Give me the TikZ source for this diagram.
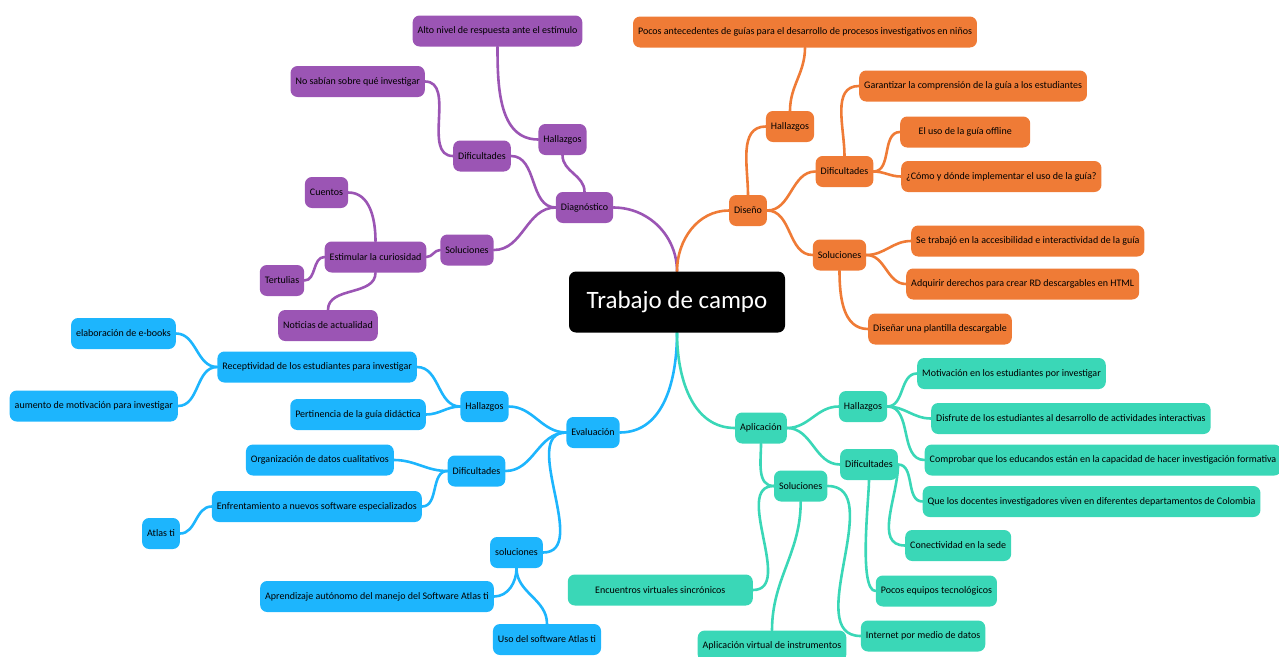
\documentclass[tikz,border=0pt]{standalone}
\usepackage{fontspec}
\setmainfont{Carlito}
\usetikzlibrary{backgrounds}

\definecolor{diagcol}{HTML}{9B55B4}
\definecolor{disecol}{HTML}{EF7B36}
\definecolor{evalcol}{HTML}{1DB5FD}
\definecolor{aplicol}{HTML}{3AD7B7}

\begin{document}
\begin{tikzpicture}[x=1pt,y=1pt]
	\tikzstyle{topic} = [rounded corners=7pt,minimum height=31pt,inner xsep=5pt,inner ysep=2pt,font=\fontsize{10}{11}\selectfont,text=black]
	\tikzstyle{diag} = [topic,fill=diagcol]
	\tikzstyle{dise} = [topic,fill=disecol]
	\tikzstyle{eval} = [topic,fill=evalcol]
	\tikzstyle{apli} = [topic,fill=aplicol]
	\tikzstyle{link} = [line width=2.6pt,line cap=round]

	\useasboundingbox (0,0) rectangle (1279,-656);

	\node[fill=black,rounded corners=7pt,minimum width=216pt,minimum height=61pt,text=white,font=\fontsize{25}{29}\selectfont] at (677,-302) (tc) {Trabajo de campo};

	% Diagnostico
	\node[diag] at (584.5,-207.5) (d0) {Diagnóstico};
	\node[diag] at (562.5,-139.5) (dhal) {Hallazgos};
	\node[diag] at (497.5,-31) (dalto) {Alto nivel de respuesta ante el estímulo};
	\node[diag] at (482,-156) (ddif) {Dificultades};
	\node[diag,anchor=east] at (425,-81.5) (dno) {No sabían sobre qué investigar};
	\node[diag] at (467,-250) (dsol) {Soluciones};
	\node[diag] at (375.5,-257) (dest) {Estimular la curiosidad};
	\node[diag] at (326.5,-192.5) (dcue) {Cuentos};
	\node[diag] at (282,-280.5) (dter) {Tertulias};
	\node[diag] at (328,-325.5) (dnot) {Noticias de actualidad};

	% Diseno
	\node[dise] at (748,-210.5) (s0) {Diseño};
	\node[dise] at (790,-126.5) (shal) {Hallazgos};
	\node[dise] at (805,-32) (spoc) {Pocos antecedentes de guías para el desarrollo de procesos investigativos en niños};
	\node[dise] at (844.5,-171.5) (sdif) {Dificultades};
	\node[dise,anchor=west] at (859,-86) (sgar) {Garantizar la comprensión de la guía a los estudiantes};
	\node[dise,anchor=west,minimum width=130pt] at (900,-132) (suso) {El uso de la guía offline};
	\node[dise,anchor=west] at (901,-176.5) (scom) {¿Cómo y dónde implementar el uso de la guía?};
	\node[dise] at (839.5,-255) (ssol) {Soluciones};
	\node[dise,anchor=west] at (911,-241) (stra) {Se trabajó en la accesibilidad e interactividad de la guía};
	\node[dise,anchor=west] at (906,-284) (sadq) {Adquirir derechos para crear RD descargables en HTML};
	\node[dise,anchor=west] at (868,-329) (sdis) {Diseñar una plantilla descargable};

	% Evaluacion
	\node[eval] at (593,-432.5) (e0) {Evaluación};
	\node[eval] at (484.5,-406.5) (ehal) {Hallazgos};
	\node[eval,anchor=east] at (417,-367) (erec) {Receptividad de los estudiantes para investigar};
	\node[eval,anchor=east] at (176,-333.5) (eela) {elaboración de e-books};
	\node[eval,anchor=east] at (178,-406) (eaum) {aumento de motivación para investigar};
	\node[eval,anchor=east] at (426,-414.5) (eper) {Pertinencia de la guía didáctica};
	\node[eval] at (476.5,-471) (edif) {Dificultades};
	\node[eval,anchor=east] at (394,-460) (eorg) {Organización de datos cualitativos};
	\node[eval,anchor=east] at (422,-506.5) (eenf) {Enfrentamiento a nuevos software especializados};
	\node[eval] at (161,-533.5) (eatl) {Atlas ti};
	\node[eval] at (516.5,-552.5) (esol) {soluciones};
	\node[eval,anchor=east] at (494,-596.5) (eapr) {Aprendizaje autónomo del manejo del Software Atlas ti};
	\node[eval] at (547,-639.5) (euso) {Uso del software Atlas ti};

	% Aplicacion
	\node[apli] at (761,-428) (a0) {Aplicación};
	\node[apli] at (863,-406.5) (ahal) {Hallazgos};
	\node[apli,anchor=west] at (917,-373.5) (amot) {Motivación en los estudiantes por investigar};
	\node[apli,anchor=west] at (931,-418.5) (adis) {Disfrute de los estudiantes al desarrollo de actividades interactivas};
	\node[apli,anchor=west] at (924.5,-460) (acom) {Comprobar que los educandos están en la capacidad de hacer investigación formativa};
	\node[apli] at (869,-464.5) (adif) {Dificultades};
	\node[apli,anchor=west] at (922.5,-501.5) (aque) {Que los docentes investigadores viven en diferentes departamentos de Colombia};
	\node[apli,anchor=west] at (905,-545.5) (acon) {Conectividad en la sede};
	\node[apli,anchor=west] at (875.6,-591) (apoc) {Pocos equipos tecnológicos};
	\node[apli,anchor=west] at (860.7,-636) (aint) {Internet por medio de datos};
	\node[apli] at (800.7,-486) (asol) {Soluciones};
	\node[apli,anchor=east,minimum width=185pt] at (753,-590) (aenc) {Encuentros virtuales sincrónicos};
	\node[apli] at (772,-646) (avir) {Aplicación virtual de instrumentos};

	\begin{pgfonlayer}{background}
	\begin{scope}[link,color=diagcol]
		\draw (d0.east) to[out=0,in=90] (tc.north);
		\draw (d0.north) to[out=90,in=-90] (dhal.south);
		\draw (dhal.west) to[out=180,in=-90] (dalto.south);
		\draw (d0.west) to[out=180,in=0] (ddif.east);
		\draw (ddif.west) to[out=180,in=0] (dno.east);
		\draw (d0.west) to[out=180,in=0] (dsol.east);
		\draw (dsol.west) to[out=180,in=0] (dest.east);
		\draw (dest.north) to[out=90,in=0] (dcue.east);
		\draw (dest.west) to[out=180,in=0] (dter.east);
		\draw (dest.south) to[out=-90,in=90] (dnot.north);
	\end{scope}

	\begin{scope}[link,color=disecol]
		\draw (tc.north) to[out=90,in=180] (s0.west);
		\draw (s0.north) to[out=90,in=180] (shal.west);
		\draw (shal.north) to[out=90,in=-90] (spoc.south);
		\draw (s0.east) to[out=0,in=180] (sdif.west);
		\draw (sdif.north) to[out=90,in=180] (sgar.west);
		\draw (sdif.east) to[out=0,in=180] (suso.west);
		\draw (sdif.east) to[out=0,in=180] (scom.west);
		\draw (s0.east) to[out=0,in=180] (ssol.west);
		\draw (ssol.east) to[out=0,in=180] (stra.west);
		\draw (ssol.east) to[out=0,in=180] (sadq.west);
		\draw (ssol.south) to[out=-90,in=180] (sdis.west);
	\end{scope}

	\begin{scope}[link,color=evalcol]
		\draw (tc.south) to[out=-90,in=0] (e0.east);
		\draw (e0.west) to[out=180,in=0] (ehal.east);
		\draw (e0.west) to[out=180,in=0] (edif.east);
		\draw (e0.west) to[out=180,in=0] (esol.east);
		\draw (ehal.west) to[out=180,in=0] (erec.east);
		\draw (ehal.west) to[out=180,in=0] (eper.east);
		\draw (erec.west) to[out=180,in=0] (eela.east);
		\draw (erec.west) to[out=180,in=0] (eaum.east);
		\draw (edif.west) to[out=180,in=0] (eorg.east);
		\draw (edif.west) to[out=180,in=0] (eenf.east);
		\draw (eenf.west) to[out=180,in=0] (eatl.east);
		\draw (esol.south) to[out=-90,in=0] (eapr.east);
		\draw (esol.south) to[out=-90,in=90] (euso.north);
	\end{scope}

	\begin{scope}[link,color=aplicol]
		\draw (tc.south) to[out=-90,in=180] (a0.west);
		\draw (a0.east) to[out=0,in=180] (ahal.west);
		\draw (a0.east) to[out=0,in=180] (adif.west);
		\draw (a0.south) to[out=-90,in=180] (asol.west);
		\draw (ahal.east) to[out=0,in=180] (amot.west);
		\draw (ahal.east) to[out=0,in=180] (adis.west);
		\draw (ahal.east) to[out=0,in=180] (acom.west);
		\draw (adif.east) to[out=0,in=180] (aque.west);
		\draw (adif.east) to[out=-90,in=180] (acon.west);
		\draw (adif.south) to[out=-90,in=180,looseness=0.4] (apoc.west);
		\draw (asol.west) to[out=180,in=0] (aenc.east);
		\draw (asol.south) to[out=-90,in=90] (avir.north);
		\draw (asol.east) to[out=0,in=180] (aint.west);
	\end{scope}
	\end{pgfonlayer}
\end{tikzpicture}
\end{document}
